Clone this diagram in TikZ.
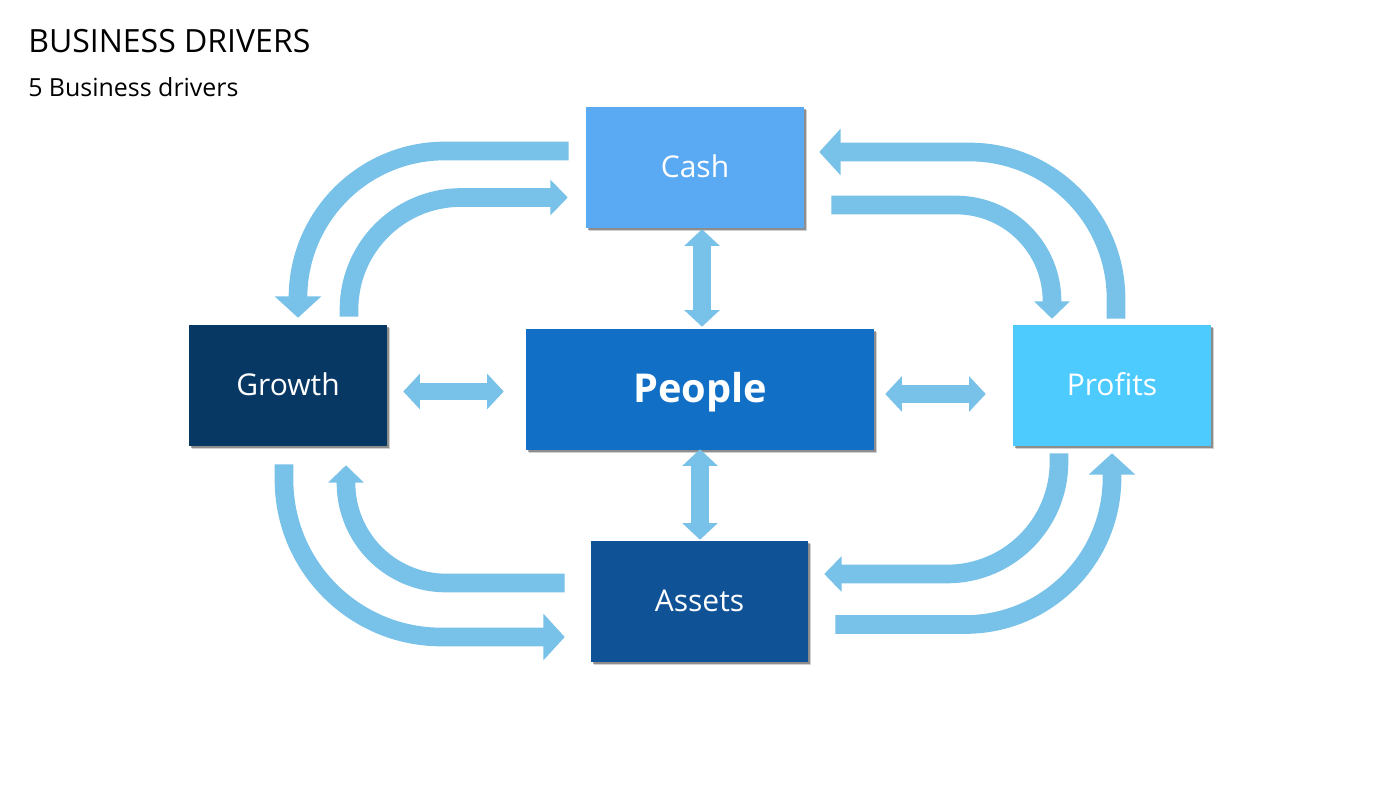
\documentclass[tikz,border=0pt]{standalone}
\usepackage{fontspec}
\setmainfont{Open Sans}
\usetikzlibrary{arrows.meta,shadows}
\definecolor{cashblue}{HTML}{5AA9F3}
\definecolor{growthblue}{HTML}{073763}
\definecolor{peopleblue}{HTML}{1170C6}
\definecolor{profitblue}{HTML}{4DCBFF}
\definecolor{assetblue}{HTML}{0F5296}
\definecolor{flowblue}{HTML}{78C1E8}
\tikzset{
  driver/.style={draw=none,text=white,inner sep=0pt,text depth=1.5pt,font=\fontsize{22.5}{27}\selectfont,
    drop shadow={shadow xshift=2.4pt,shadow yshift=-2.4pt,fill=black,opacity=.18},
    drop shadow={shadow xshift=1.2pt,shadow yshift=-1.2pt,fill=black,opacity=.32}},
  outerflow/.style={draw=flowblue,line width=14pt,rounded corners=110pt,
    -{Triangle[length=16pt,width=34pt,fill=flowblue]}},
  innerflow/.style={draw=flowblue,line width=14pt,rounded corners=84pt,
    -{Triangle[length=13pt,width=26pt,fill=flowblue]}},
  pairflow/.style={draw=flowblue,line width=13pt,
    {Triangle[length=12.5pt,width=26pt,fill=flowblue]}-{Triangle[length=12.5pt,width=26pt,fill=flowblue]}}
}
\begin{document}
\begin{tikzpicture}[x=.75pt,y=-.75pt]
      \useasboundingbox (0,0) rectangle (1400,788);
      \fill[white] (0,0) rectangle (1400,788);
      \node[anchor=base west,inner sep=0pt,font=\fontsize{24}{29}\selectfont] (title) at (28,53) {BUSINESS DRIVERS};
      \node[anchor=base west,inner sep=0pt,font=\fontsize{18.7}{22}\selectfont] (subtitle) at (28,96.5) {5 Business drivers};
      \node[driver,fill=cashblue,minimum width=163.5pt,minimum height=90.75pt] (cash) at (695,167.5) {Cash};
      \node[driver,fill=growthblue,minimum width=148.5pt,minimum height=90.75pt] (growth) at (288,385.5) {Growth};
      \node[driver,fill=peopleblue,minimum width=261pt,minimum height=90.75pt,text height=21.3pt,text depth=1.5pt,font=\fontsize{29.8}{36}\selectfont\bfseries] (people) at (700,389.5) {People};
      \node[driver,fill=profitblue,minimum width=148.5pt,minimum height=90.75pt] (profits) at (1112,385.5) {Profits};
      \node[driver,fill=assetblue,minimum width=162.75pt,minimum height=90.75pt] (assets) at (699.5,601.5) {Assets};
      \begin{scope}[outerflow]
        \draw ([shift={(-17,-16.5)}]cash.west) -| ([shift={(10,-7)}]growth.north);
        \draw ([shift={(4,-6)}]profits.north) |- ([shift={(15,-15.5)}]cash.east);
        \draw[rounded corners=118pt] ([shift={(-4,18)}]growth.south) |- ([shift={(-26,35.5)}]assets.west);
        \draw ([shift={(27,23)}]assets.east) -| ([shift={(0,7)}]profits.south);
      \end{scope}
      \begin{scope}[innerflow]
        \draw ([shift={(61,-8)}]growth.north) |- ([shift={(-18,30)}]cash.west);
        \draw[rounded corners=72pt] ([shift={(27,37.5)}]cash.east) -| ([shift={(-60,-6)}]profits.north);
        \draw[rounded corners=75pt] ([shift={(-26,-18.5)}]assets.west) -| ([shift={(58,19)}]growth.south);
        \draw ([shift={(-53,7)}]profits.south) |- ([shift={(16,-27.5)}]assets.east);
      \end{scope}
      \begin{scope}[pairflow]
        \draw ([shift={(7,1)}]cash.south) -- ([shift={(2,-2)}]people.north);
        \draw ([shift={(0,-1)}]people.south) -- ([shift={(.5,-1)}]assets.north);
        \draw ([shift={(16,6)}]growth.east) -- ([shift={(-22,2)}]people.west);
        \draw ([shift={(11,4.5)}]people.east) -- ([shift={(-27,8.5)}]profits.west);
      \end{scope}
    \end{tikzpicture}
\end{document}
